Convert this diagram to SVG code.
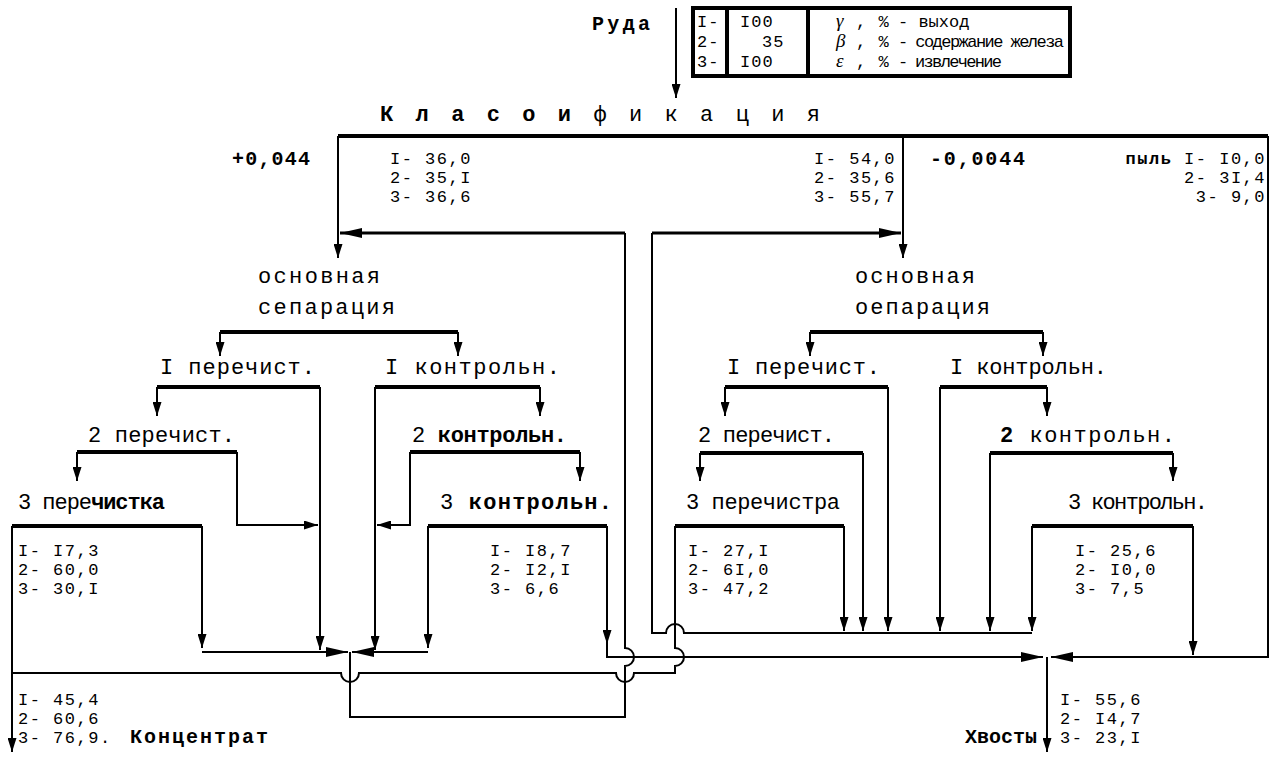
<svg xmlns="http://www.w3.org/2000/svg" width="1274" height="758" viewBox="0 0 1274 758">
<defs>
<marker id="a" markerUnits="userSpaceOnUse" markerWidth="14" markerHeight="9" refX="14" refY="4.5" orient="auto"><path d="M0,0 L14,4.5 L0,9 z" fill="#000"/></marker>
<marker id="b" markerUnits="userSpaceOnUse" markerWidth="22" markerHeight="10" refX="22" refY="5" orient="auto"><path d="M0,0 L22,5 L0,10 z" fill="#000"/></marker>
<style>
.t{font-family:"Liberation Mono","DejaVu Sans Mono",monospace;fill:#000}
.p{font-size:22px}
.d{font-size:17px;letter-spacing:1.5px}
.h{font-size:20px}
.l{font-size:17px;letter-spacing:1px}
.b{font-weight:bold}
.g{font-family:"Liberation Serif",serif;font-style:italic;font-size:19px}
.thin{fill:none;stroke:#000;stroke-width:2}
.mid{fill:none;stroke:#000;stroke-width:3}
.thick{fill:none;stroke:#000;stroke-width:4}
</style>
</defs>
<rect width="1274" height="758" fill="#fff"/>

<g id="legend">
<text class="t h b" x="592" y="30" textLength="58">Руда</text>
<rect x="693" y="8" width="377" height="68" class="thick"/>
<line x1="727" y1="8" x2="727" y2="76" class="thick"/>
<line x1="808" y1="8" x2="808" y2="76" class="thick"/>
<text class="t l" x="697" y="27">I-<tspan x="697" y="47">2-</tspan><tspan x="697" y="67">3-</tspan></text>
<text class="t l" x="740" y="27">I00<tspan x="762" y="47">35</tspan><tspan x="740" y="67">I00</tspan></text>
<text class="g" x="836" y="27">γ<tspan x="836" y="47">β</tspan><tspan x="836" y="67">ε</tspan></text>
<text class="t l" x="856" y="27">, %<tspan x="856" y="47">, %</tspan><tspan x="856" y="67">, %</tspan></text>
<text class="t" font-size="17" x="898" y="27">- выход<tspan x="898" y="47" textLength="166">- содержание железа</tspan><tspan x="898" y="67" textLength="104">- извлечение</tspan></text>
</g>

<g id="classification">
<text class="t p" x="380" y="121" textLength="440"><tspan font-weight="bold">К л а с о и</tspan> ф и к а ц и я</text>
<text class="t h b" x="232" y="165" textLength="78">+0,044</text>
<text class="t d" x="390" y="164">I- 36,0<tspan x="390" y="183">2- 35,I</tspan><tspan x="390" y="202">3- 36,6</tspan></text>
<text class="t d" x="896" y="164" text-anchor="end">I- 54,0<tspan x="896" y="183">2- 35,6</tspan><tspan x="896" y="202">3- 55,7</tspan></text>
<text class="t h b" x="930" y="165" textLength="95">-0,0044</text>
<text class="t d" x="1266" y="164" text-anchor="end"><tspan font-weight="bold">пыль</tspan> I- I0,0<tspan x="1266" y="183">2- 3I,4</tspan><tspan x="1266" y="202">3-  9,0</tspan></text>
</g>

<g id="left-main">
<text class="t p" x="258" y="283" textLength="122">основная</text>
<text class="t p" x="258" y="314" textLength="137">сепарация</text>
</g>
<g id="left-clean1"><text class="t p" x="160" y="374" textLength="155">I перечист.</text></g>
<g id="left-control1"><text class="t p" x="385" y="374" textLength="175">I контрольн.</text></g>
<g id="left-clean2"><text class="t p" x="88" y="442" textLength="147">2 перечист.</text></g>
<g id="left-control2"><text class="t p" x="412" y="442" textLength="155">2 <tspan font-weight="bold">контрольн.</tspan></text></g>
<g id="left-clean3">
<text class="t p" x="18" y="509" textLength="147">3 пере<tspan font-weight="bold">чистка</tspan></text>
<text class="t d" x="18" y="556">I- I7,3<tspan x="18" y="575">2- 60,0</tspan><tspan x="18" y="594">3- 30,I</tspan></text>
</g>
<g id="left-control3">
<text class="t p" x="440" y="509" textLength="172">3 <tspan font-weight="bold">контрольн.</tspan></text>
<text class="t d" x="490" y="556">I- I8,7<tspan x="490" y="575">2- I2,I</tspan><tspan x="490" y="594">3-  6,6</tspan></text>
</g>

<g id="right-main">
<text class="t p" x="855" y="283" textLength="120">основная</text>
<text class="t p" x="855" y="314" textLength="135">оепарация</text>
</g>
<g id="right-clean1"><text class="t p" x="727" y="374" textLength="153">I перечист.</text></g>
<g id="right-control1"><text class="t p" x="950" y="374" textLength="157">I контрольн.</text></g>
<g id="right-clean2"><text class="t p" x="698" y="442" textLength="137">2 перечист.</text></g>
<g id="right-control2"><text class="t p" x="1000" y="442" textLength="175"><tspan font-weight="bold">2</tspan> контрольн.</text></g>
<g id="right-clean3">
<text class="t p" x="686" y="509" textLength="154">3 перечистра</text>
<text class="t d" x="688" y="556">I- 27,I<tspan x="688" y="575">2- 6I,0</tspan><tspan x="688" y="594">3- 47,2</tspan></text>
</g>
<g id="right-control3">
<text class="t p" x="1068" y="509" textLength="140">3 контрольн.</text>
<text class="t d" x="1075" y="556">I- 25,6<tspan x="1075" y="575">2- I0,0</tspan><tspan x="1075" y="594">3-  7,5</tspan></text>
</g>

<g id="concentrate">
<text class="t d" x="18" y="705">I- 45,4<tspan x="18" y="724">2- 60,6</tspan><tspan x="18" y="743">3- 76,9.</tspan></text>
<text class="t h b" x="130" y="743" textLength="138">Концентрат</text>
</g>
<g id="tails">
<text class="t d" x="1060" y="705">I- 55,6<tspan x="1060" y="724">2- I4,7</tspan><tspan x="1060" y="743">3- 23,I</tspan></text>
<text class="t h b" x="965" y="743" textLength="72">Хвосты</text>
</g>

<g id="connectors">
<path class="thin" d="M676,8 V98" marker-end="url(#a)"/>
<path class="thick" d="M338,136 H1268"/>
<path class="thin" d="M338,136 V258" marker-end="url(#a)"/>
<path class="thin" d="M903,136 V258" marker-end="url(#a)"/>
<path class="thin" d="M1268,136 V657 H1051" marker-end="url(#b)"/>
<path class="thick" d="M220,332 H458"/>
<path class="thin" d="M220,332 V356" marker-end="url(#a)"/>
<path class="thin" d="M458,332 V356" marker-end="url(#a)"/>
<path class="thick" d="M157,387 H320"/>
<path class="thin" d="M157,387 V416" marker-end="url(#a)"/>
<path class="thin" d="M320,387 V650" marker-end="url(#a)"/>
<path class="thick" d="M375,387 H540"/>
<path class="thin" d="M540,387 V416" marker-end="url(#a)"/>
<path class="thin" d="M375,387 V650" marker-end="url(#a)"/>
<path class="thick" d="M77,452 H237"/>
<path class="thin" d="M77,452 V481" marker-end="url(#a)"/>
<path class="thin" d="M237,452 V525 H318" marker-end="url(#a)"/>
<path class="thick" d="M410,452 H580"/>
<path class="thin" d="M580,452 V481" marker-end="url(#a)"/>
<path class="thin" d="M410,452 V525 H377" marker-end="url(#a)"/>
<path class="thick" d="M12,526 H202"/>
<path class="thin" d="M12,526 V752" marker-end="url(#a)"/>
<path class="thin" d="M202,526 V648" marker-end="url(#a)"/>
<path class="thin" d="M202,652 H348" marker-end="url(#b)"/>
<path class="thick" d="M428,526 H607"/>
<path class="thin" d="M428,526 V648" marker-end="url(#a)"/>
<path class="thin" d="M428,652 H352" marker-end="url(#b)"/>
<path class="thin" d="M607,526 V644" marker-end="url(#a)"/>
<path class="thin" d="M607,640 V657 H1043" marker-end="url(#b)"/>
<path class="thin" d="M350,652 V717 H625 V666 A9,9 0 0 0 625,648 V233"/>
<path class="mid" d="M625,233 H340" marker-end="url(#b)"/>
<path class="thin" d="M12,673 H341 A9,9 0 0 0 359,673 H616 A9,9 0 0 0 634,673 H675 V666 A9,9 0 0 0 675,648 V526"/>
<path class="thin" d="M1032,633 H684 A9,9 0 0 0 666,633 H652 V233"/>
<path class="mid" d="M652,233 H901" marker-end="url(#b)"/>
<path class="thick" d="M810,332 H1043"/>
<path class="thin" d="M810,332 V356" marker-end="url(#a)"/>
<path class="thin" d="M1043,332 V356" marker-end="url(#a)"/>
<path class="thick" d="M725,387 H888"/>
<path class="thin" d="M725,387 V416" marker-end="url(#a)"/>
<path class="thin" d="M888,387 V631" marker-end="url(#a)"/>
<path class="thick" d="M940,387 H1047"/>
<path class="thin" d="M1047,387 V416" marker-end="url(#a)"/>
<path class="thin" d="M940,387 V631" marker-end="url(#a)"/>
<path class="thick" d="M700,453 H863"/>
<path class="thin" d="M700,453 V481" marker-end="url(#a)"/>
<path class="thin" d="M863,453 V631" marker-end="url(#a)"/>
<path class="thick" d="M990,453 H1173"/>
<path class="thin" d="M1173,453 V481" marker-end="url(#a)"/>
<path class="thin" d="M990,453 V631" marker-end="url(#a)"/>
<path class="thick" d="M675,526 H844"/>
<path class="thin" d="M844,526 V631" marker-end="url(#a)"/>
<path class="thick" d="M1032,526 H1193"/>
<path class="thin" d="M1032,526 V631" marker-end="url(#a)"/>
<path class="thin" d="M1193,526 V655" marker-end="url(#a)"/>
<path class="thin" d="M1047,657 V752" marker-end="url(#a)"/>
</g>
</svg>
